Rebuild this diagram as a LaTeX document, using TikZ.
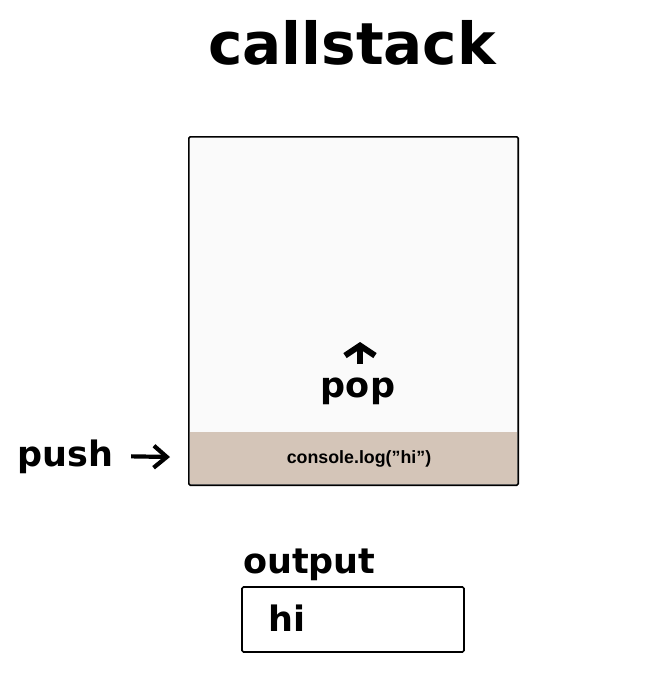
\documentclass[tikz,border=0pt]{standalone}
\usepackage{fontspec}
\setmainfont{DejaVu Sans}
\newfontfamily\codefont{Liberation Sans}
\usetikzlibrary{arrows.meta}
\definecolor{bandcol}{RGB}{212,197,184}
\definecolor{stackcol}{RGB}{250,250,250}
\begin{document}
\begin{tikzpicture}
        [x=1pt,y=-1pt,
         label/.style={font=\bfseries\fontsize{35}{35}\selectfont, inner sep=0pt},
         frame/.style={draw, line width=1.6pt, rounded corners=1.5pt},
         poparrow/.style={line width=6pt, -{Straight Barb[length=10pt,width=30pt]}},
         pusharrow/.style={line width=4.2pt, -{Straight Barb[length=13pt,width=22pt]}}]
      \useasboundingbox (0,0) rectangle (664,690);

      \node[font=\bfseries\fontsize{58}{58}\selectfont, anchor=base] (title) at (352,65) {callstack};

      % the stack
      \node[fill=stackcol, minimum width=329pt, minimum height=348pt, inner sep=0pt] (stack) at (353.5,311) {};
      \node[fill=bandcol, minimum width=327pt, minimum height=52pt, inner sep=0pt] (band) at (353.5,458) {};
      \node[font=\codefont\bfseries\fontsize{17.8}{17.8}\selectfont, anchor=base] (log) at (359,463) {console.log(”hi”)};
      \draw[frame] (stack.north west) rectangle (stack.south east);

      \node[label, anchor=base] (pop) at (358,397) {pop};
      \coordinate (poptip) at (360,342);
      \draw[poparrow] (pop.north) ++(2,-13) -- (poptip);

      \node[label, anchor=base west] (push) at (17,466) {push};
      \coordinate (pushtip) at (170,457);
      \draw[pusharrow] (push.east) ++(18,0) -- (pushtip);

      % output
      \node[label, anchor=base west] (outlbl) at (243,573) {output};
      \node[frame, fill=white, minimum width=222pt, minimum height=65pt] (out) at (353,619.5) {};
      \node[label, anchor=base west] (hi) at (268,631) {hi};
    \end{tikzpicture}
\end{document}
